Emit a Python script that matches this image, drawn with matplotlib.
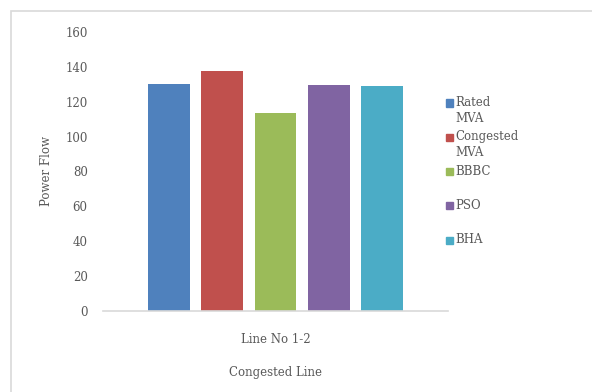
import matplotlib.pyplot as plt
from matplotlib.patches import Rectangle

# data
series = ['Rated\nMVA', 'Congested\nMVA', 'BBBC', 'PSO', 'BHA']
values = [130, 137.5, 113.5, 129.5, 129]
colors = ['#4F81BD', '#C0504D', '#9BBB59', '#8064A2', '#4BACC6']
group_label = 'Line No 1-2'
y_ticks = [0, 20, 40, 60, 80, 100, 120, 140, 160]

TXT = '#595959'
FONT = 'DejaVu Serif'
FS = 8.5
W, H = 592, 392

plt.rcParams['font.family'] = FONT

fig = plt.figure(figsize=(W / 100, H / 100), dpi=100)
ax = fig.add_axes([103 / W, 1 - 311 / H, 345 / W, 279 / H])

# outer chart frame (cut off at right/bottom like the original)
fig.patches.append(Rectangle((11 / W, -0.1), 1.2, 1 - 10.5 / H + 0.1,
                             transform=fig.transFigure, fill=False,
                             edgecolor='#d9d9d9', linewidth=1.2))

x = list(range(len(values)))
ax.bar(x, values, width=0.79, color=colors, zorder=2)

ax.set_xlim(-1.25, 5.25)
ax.set_ylim(0, 160)
ax.set_yticks(y_ticks)
ax.set_xticks([2])
ax.set_xticklabels([group_label])
ax.tick_params(axis='y', length=0, pad=11, labelsize=FS, labelcolor=TXT)
ax.tick_params(axis='x', length=0, pad=16, labelsize=FS, labelcolor=TXT)

for side in ['left', 'right', 'top']:
    ax.spines[side].set_visible(False)
ax.spines['bottom'].set_color('#d9d9d9')
ax.spines['bottom'].set_linewidth(1.2)

ax.set_xlabel('Congested Line', fontsize=FS, color=TXT, labelpad=14)
fig.text(46 / W, 1 - 171 / H, 'Power Flow', rotation=90, ha='center',
         va='center', fontsize=FS, color=TXT)

# legend, laid out like the Excel one
for i, (lab, col) in enumerate(zip(series, colors)):
    yc = 103 + i * 34.3
    fig.patches.append(Rectangle((446 / W, 1 - (yc + 3.5) / H), 7 / W, 7 / H,
                                 transform=fig.transFigure, color=col))
    fig.text(455 / W, 1 - (yc - 7) / H, lab, ha='left', va='top',
             fontsize=FS, color=TXT, linespacing=1.3)

fig.savefig('out.png', dpi=100)
